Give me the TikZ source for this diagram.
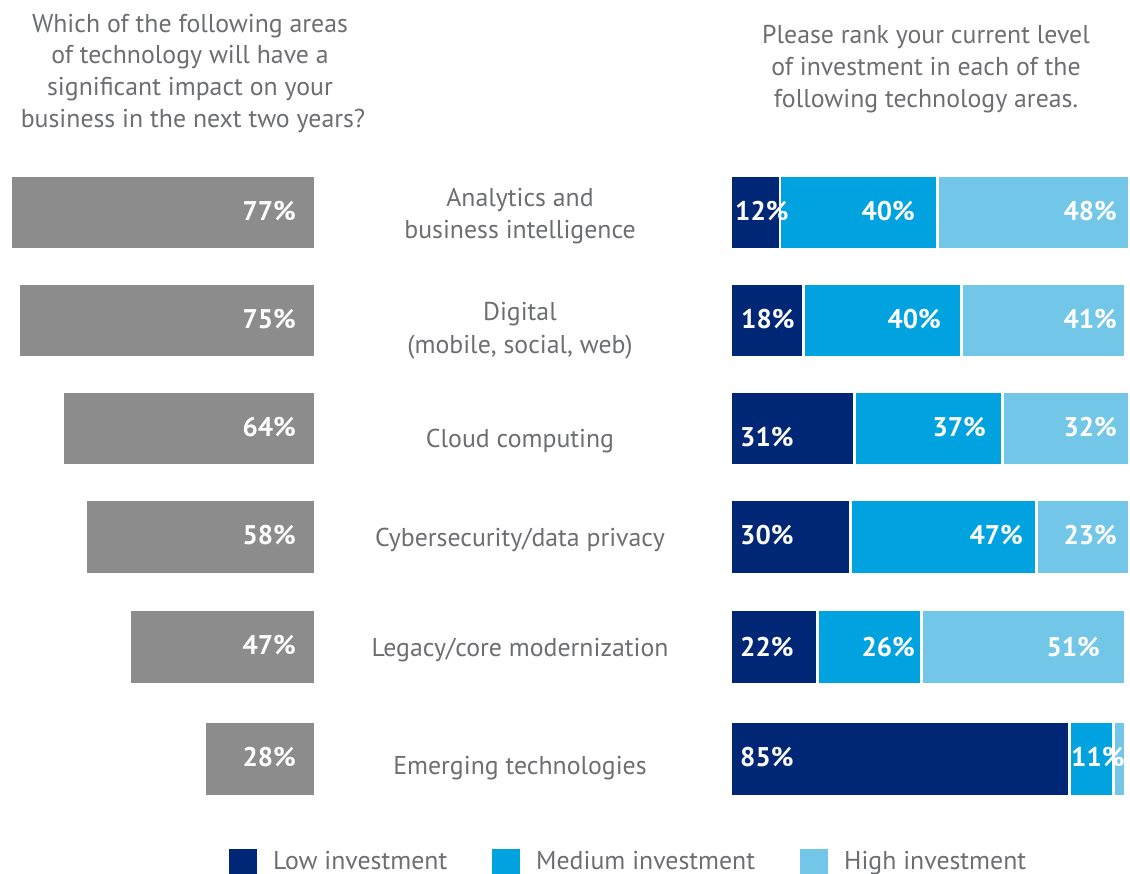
\documentclass[tikz,border=0pt]{standalone}
\usepackage{fontspec}
\setmainfont{PT Sans}
\definecolor{dk}{HTML}{002776}
\definecolor{md}{HTML}{00A3E0}
\definecolor{lt}{HTML}{72C6E7}
\definecolor{gb}{HTML}{8C8C8C}
\definecolor{tx}{HTML}{6D6E71}
\begin{document}
\begin{tikzpicture}[x=1pt,y=-1pt,
  lab/.style={font=\fontsize{25.8}{30}\selectfont, text=tx, anchor=base, inner sep=0pt},
  pct/.style={font=\fontsize{27}{30}\selectfont\bfseries, text=white, inner sep=0pt}]
\useasboundingbox (0,0) rectangle (1130,873);
% headings
\node[lab] (hl1) at (190,32) {Which of the following areas};
\node[lab] (hl2) at (190,63) {of technology will have a};
\node[lab] (hl3) at (190,95) {significant impact on your};
\node[lab] (hl4) at (193,127) {business in the next two years?};
\node[lab] (hr1) at (926,43) {Please rank your current level};
\node[lab] (hr2) at (926,75) {of investment in each of the};
\node[lab] (hr3) at (926,107) {following technology areas.};
% grey bars
\fill[gb] (12,177) rectangle (314,248);
\fill[gb] (20,285) rectangle (314,356);
\fill[gb] (64,393) rectangle (314,464);
\fill[gb] (87,501) rectangle (314,573);
\fill[gb] (131,611) rectangle (314,683);
\fill[gb] (206,723) rectangle (314,795);
\node[pct,anchor=base east] (g1) at (296,220.5) {77\%};
\node[pct,anchor=base east] (g2) at (296,328.5) {75\%};
\node[pct,anchor=base east] (g3) at (296,436.5) {64\%};
\node[pct,anchor=base east] (g4) at (296,544.5) {58\%};
\node[pct,anchor=base east] (g5) at (296,654.5) {47\%};
\node[pct,anchor=base east] (g6) at (296,766.5) {28\%};
% row labels
\node[lab] (c1a) at (520,206) {Analytics and};
\node[lab] (c1b) at (520,238) {business intelligence};
\node[lab] (c2a) at (520,320) {Digital};
\node[lab] (c2b) at (520,353) {(mobile, social, web)};
\node[lab] (c3) at (520,447) {Cloud computing};
\node[lab] (c4) at (520,546) {Cybersecurity/data privacy};
\node[lab] (c5) at (520,656) {Legacy/core modernization};
\node[lab] (c6) at (520,774) {Emerging technologies};
% stacked bars
\fill[dk] (732,177) rectangle (779,248);
\fill[md] (781,177) rectangle (936,248);
\fill[lt] (939,177) rectangle (1128,248);
\fill[dk] (732,285) rectangle (802,356);
\fill[md] (805,285) rectangle (960,356);
\fill[lt] (963,285) rectangle (1124,356);
\fill[dk] (732,393) rectangle (853,464);
\fill[md] (856,393) rectangle (1001,464);
\fill[lt] (1004,393) rectangle (1128,464);
\fill[dk] (732,501) rectangle (849,573);
\fill[md] (852,501) rectangle (1035,573);
\fill[lt] (1038,501) rectangle (1128,573);
\fill[dk] (732,611) rectangle (816,683);
\fill[md] (819,611) rectangle (920,683);
\fill[lt] (923,611) rectangle (1124,683);
\fill[dk] (732,723) rectangle (1068,795);
\fill[md] (1071,723) rectangle (1112,795);
\fill[lt] (1115,723) rectangle (1124,795);
% stacked labels
\node[pct,anchor=base west] (d1) at (735,220.5) {12\%};
\node[pct,anchor=base east] (m1) at (915,220.5) {40\%};
\node[pct,anchor=base east] (l1) at (1117,220.5) {48\%};
\node[pct,anchor=base west] (d2) at (741,328) {18\%};
\node[pct,anchor=base east] (m2) at (941,328) {40\%};
\node[pct,anchor=base east] (l2) at (1117,328) {41\%};
\node[pct,anchor=base west] (d3) at (740,446) {31\%};
\node[pct,anchor=base east] (m3) at (986,436) {37\%};
\node[pct,anchor=base east] (l3) at (1117,436) {32\%};
\node[pct,anchor=base west] (d4) at (740,544) {30\%};
\node[pct,anchor=base east] (m4) at (1023,544) {47\%};
\node[pct,anchor=base east] (l4) at (1117,544) {23\%};
\node[pct,anchor=base west] (d5) at (740,656) {22\%};
\node[pct,anchor=base east] (m5) at (915,656) {26\%};
\node[pct,anchor=base east] (l5) at (1100,656) {51\%};
\node[pct,anchor=base west] (d6) at (740,766) {85\%};
\node[pct,anchor=base west] (m6) at (1071,766) {11\%};
% legend
\fill[dk] (229,849) rectangle (257,875);
\fill[md] (492,849) rectangle (520,875);
\fill[lt] (800,849) rectangle (828,875);
\node[lab,anchor=base west] (k1) at (273,869) {Low investment};
\node[lab,anchor=base west] (k2) at (536,869) {Medium investment};
\node[lab,anchor=base west] (k3) at (844,869) {High investment};
\end{tikzpicture}
\end{document}
